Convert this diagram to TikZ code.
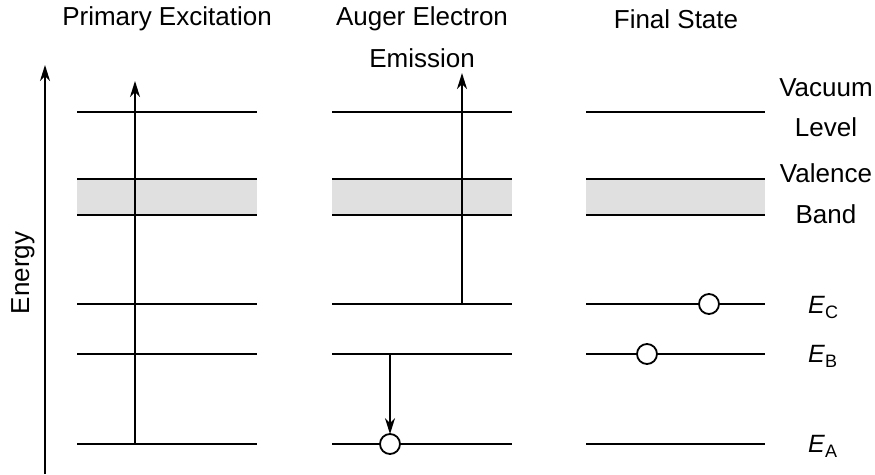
\documentclass[tikz,border=0pt]{standalone}
\usepackage{fontspec}
\setmainfont{Liberation Sans}
\usetikzlibrary{arrows.meta}
\begin{document}
\begin{tikzpicture}[x=1pt,y=-1pt,
  lvl/.style={line width=1.9pt},
  band/.style={fill=black!12, draw=none},
  arr/.style={line width=1.9pt,-{Stealth[length=16pt,width=10pt,inset=5pt]}},
  hole/.style={circle, draw, line width=1.8pt, fill=white, minimum size=20pt, inner sep=0pt},
  lbl/.style={font=\fontsize{26}{30}\selectfont, inner sep=0pt},
  elbl/.style={font=\fontsize{25}{30}\selectfont, inner sep=0pt, anchor=base west}]
\useasboundingbox (0,0) rectangle (875,474);
% titles
\node[lbl] (t1) at (167,19) {Primary Excitation};
\node[lbl] (t2) at (422,19) {Auger Electron};
\node[lbl] (t2b) at (422,58) {Emission};
\node[lbl] (t3) at (676,19) {Final State};
\node[lbl, rotate=90] (en) at (23,273) {Energy};
% energy axis
\coordinate (ax0) at (45,474);
\coordinate (ax1) at (45,65);
\draw[arr] (ax0) -- (ax1);
% bands and levels
\foreach \c/\xa/\xb in {1/77/257, 2/332/512, 3/586/765} {
  \fill[band] (\xa,179) rectangle (\xb,215);
  \coordinate (v\c a) at (\xa,112); \coordinate (v\c b) at (\xb,112);
  \coordinate (bt\c a) at (\xa,179); \coordinate (bt\c b) at (\xb,179);
  \coordinate (bb\c a) at (\xa,215); \coordinate (bb\c b) at (\xb,215);
  \coordinate (c\c a) at (\xa,304); \coordinate (c\c b) at (\xb,304);
  \coordinate (b\c a) at (\xa,354); \coordinate (b\c b) at (\xb,354);
  \coordinate (a\c a) at (\xa,444); \coordinate (a\c b) at (\xb,444);
  \draw[lvl] (v\c a) -- (v\c b);
  \draw[lvl] (bt\c a) -- (bt\c b);
  \draw[lvl] (bb\c a) -- (bb\c b);
  \draw[lvl] (c\c a) -- (c\c b);
  \draw[lvl] (b\c a) -- (b\c b);
  \draw[lvl] (a\c a) -- (a\c b);
}
% column 1 arrow
\coordinate (p0) at (135,444);
\coordinate (p1) at (135,81);
\draw[arr] (p0) -- (p1);
% column 2
\coordinate (e0) at (462,304);
\coordinate (e1) at (462,73);
\draw[arr] (e0) -- (e1);
\node[hole] (h2) at (390,444) {};
\coordinate (d0) at (390,354);
\draw[arr] (d0) -- ([yshift=-1pt]h2.north);
% column 3
\node[hole] (h3c) at (709,304) {};
\node[hole] (h3b) at (647,354) {};
% right labels
\node[lbl] (vac) at (826,88) {Vacuum};
\node[lbl] (lev) at (826,127) {Level};
\node[lbl] (val) at (826,173) {Valence};
\node[lbl] (bnd) at (826,214) {Band};
\node[elbl] (ec) at (808,313) {\textit{E}\raisebox{-0.22em}{\fontsize{18}{20}\selectfont C}};
\node[elbl] (eb) at (808,362) {\textit{E}\raisebox{-0.22em}{\fontsize{18}{20}\selectfont B}};
\node[elbl] (ea) at (808,452) {\textit{E}\raisebox{-0.22em}{\fontsize{18}{20}\selectfont A}};
\end{tikzpicture}
\end{document}
